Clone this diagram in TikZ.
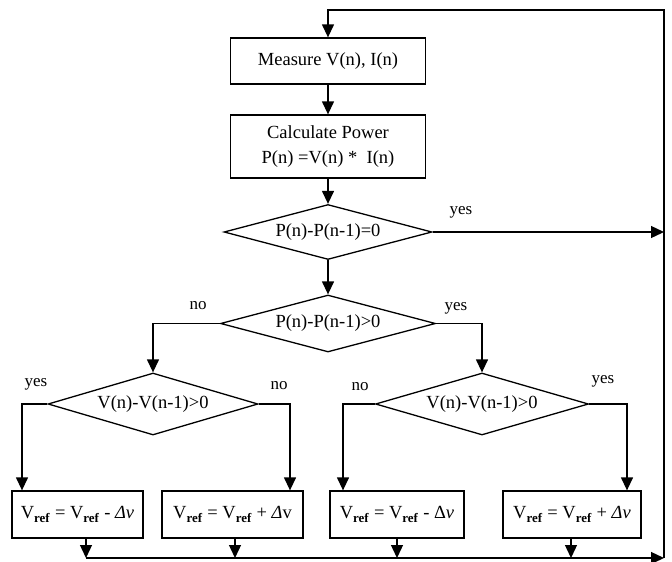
\documentclass[tikz,border=0pt]{standalone}
\usepackage{fontspec}
\setmainfont{Liberation Serif}
\usetikzlibrary{shapes.geometric,arrows.meta}
\tikzset{
  box/.style={draw,line width=1.3pt,inner sep=0pt,align=center,font=\fontsize{18.5}{25}\selectfont},
  dia/.style={draw,diamond,line width=1.3pt,inner sep=0pt,font=\fontsize{18.5}{23}\selectfont},
  lab/.style={font=\fontsize{17}{20}\selectfont,inner sep=0pt},
  arr/.style={line width=1.3pt,-{Triangle[length=13pt,width=12pt]}},
  ln/.style={line width=1.3pt}
}
\newcommand{\Vr}{V\textsubscript{\textbf{ref}}}
\begin{document}
\begin{tikzpicture}[x=1pt,y=-1pt]
\useasboundingbox (0,0) rectangle (672,562);
% process boxes
\node[box,minimum width=195pt,minimum height=46pt] (M) at (328,61) {Measure V(n), I(n)};
\node[box,minimum width=195pt,minimum height=63pt] (C) at (328,146.5) {Calculate Power\\P(n) =V(n) *\ \ I(n)};
% decisions
\node[dia,minimum width=208pt,minimum height=55pt,aspect=3.78] (D1) at (328,232) {P(n)-P(n-1)=0};
\node[dia,minimum width=215pt,minimum height=57pt,aspect=3.77] (D2) at (328,323.5) {P(n)-P(n-1)>0};
\node[dia,minimum width=210pt,minimum height=62pt,aspect=3.39] (D3) at (153,404) {V(n)-V(n-1)>0};
\node[dia,minimum width=213pt,minimum height=62pt,aspect=3.44] (D4) at (482,404) {V(n)-V(n-1)>0};
% result boxes
\node[box,minimum width=131pt,minimum height=47pt] (A) at (77.5,514.5) {\Vr\ = \Vr\ - \textit{Δv}};
\node[box,minimum width=141pt,minimum height=47pt] (B) at (232.5,514.5) {\Vr\ = \Vr\ + \textit{Δ}v};
\node[box,minimum width=134pt,minimum height=47pt] (Cc) at (397,514.5) {\Vr\ = \Vr\ - Δ\textit{ν}};
\node[box,minimum width=138pt,minimum height=47pt] (Dd) at (572,514.5) {\Vr\ = \Vr\ + \textit{Δν}};
% helper coordinates
\coordinate (rt) at (664,10);
\coordinate (rb) at (664,558);
\coordinate (bA) at (86,558);
\coordinate (bB) at (235,558);
\coordinate (bC) at (397,558);
\coordinate (bD) at (571,558);
\coordinate (xA) at (22,0);
\coordinate (xB) at (290,0);
\coordinate (xC) at (343,0);
\coordinate (xD) at (627,0);
% main flow
\draw[arr] (M) -- (C);
\draw[arr] (C) -- (D1);
\draw[arr] (D1) -- (D2);
\draw[arr] (D1.east) -- (D1.east -| rt);
\draw[arr] (D2.west) -| (D3.north);
\draw[arr] (D2.east) -| (D4.north);
\draw[arr] (D3.west) -| (A.north -| xA);
\draw[arr] (D3.east) -| (B.north -| xB);
\draw[arr] (D4.west) -| (Cc.north -| xC);
\draw[arr] (D4.east) -| (Dd.north -| xD);
\draw[arr] (A.south -| bA) -- (bA);
\draw[arr] (B.south -| bB) -- (bB);
\draw[arr] (Cc.south -| bC) -- (bC);
\draw[arr] (Dd.south -| bD) -- (bD);
\draw[arr] (bA) -- (rb);
\draw[arr] (rb) -- (rt) -| (M.north);
% labels
\node[lab] (l1) at (461,212) {yes};
\node[lab] (l2) at (198,306) {no};
\node[lab] (l3) at (456,308) {yes};
\node[lab] (l4) at (36,384) {yes};
\node[lab] (l5) at (279,386) {no};
\node[lab] (l6) at (360,387) {no};
\node[lab] (l7) at (603,381) {yes};
\end{tikzpicture}
\end{document}
